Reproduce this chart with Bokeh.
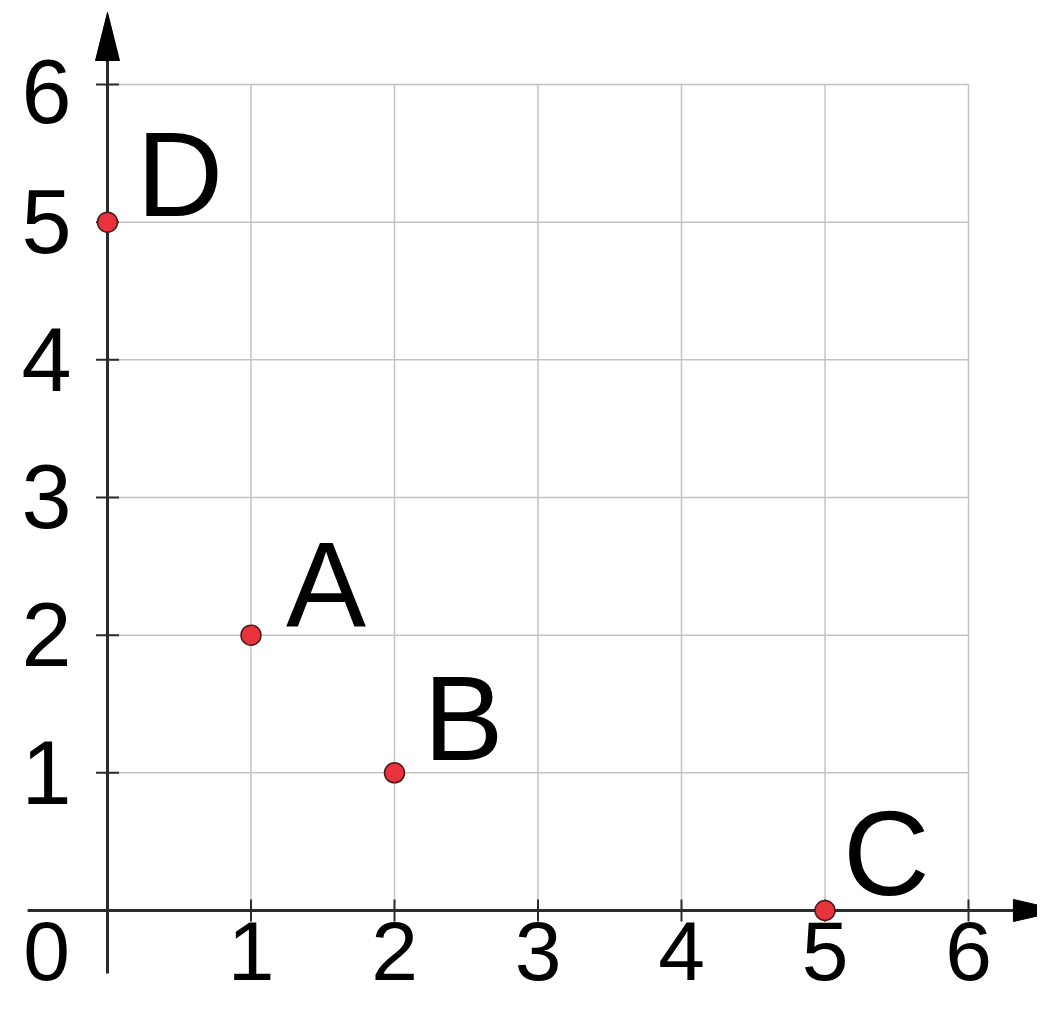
from bokeh.plotting import figure
from bokeh.models import ColumnDataSource, Range1d
from bokeh.core.properties import value
from bokeh.embed import file_html
from bokeh.resources import INLINE

# ---- data ----
point_names = ["A", "B", "C", "D"]
point_x = [1, 2, 5, 0]
point_y = [2, 1, 0, 5]

grid_values = [0, 1, 2, 3, 4, 5, 6]
tick_values = [1, 2, 3, 4, 5, 6]
tick_labels = ["1", "2", "3", "4", "5", "6"]
origin_label = "0"

# ---- styling / layout helpers (screen px) ----
BASE_FIX = 0.375          # em shift of the svg "alphabetic" baseline
LABEL_FS, TICK_FS, XTICK_FS = 120, 90, 84
label_dx = [35, 29, 18, 29]
label_dy = [-6, -10, -13, -3]
ylab_nudge = [0, 0, 0, 0, 0, 8]

# axis extents (data units)
x_axis_start, x_axis_end = -0.557, 6.648
y_axis_start, y_axis_end = -0.458, 6.523
x_head_len, x_head_half = 0.335, 0.080
y_head_len, y_head_half = 0.349, 0.0836

W, H = 1037, 1001
p = figure(width=W, height=H, output_backend="svg", toolbar_location=None,
           x_range=Range1d(-0.7456, 6.4808), y_range=Range1d(-0.661, 6.610),
           min_border=0, min_border_left=0, min_border_right=0,
           min_border_top=0, min_border_bottom=0)
p.axis.visible = False
p.grid.visible = False
p.outline_line_color = None
p.background_fill_color = "white"
p.border_fill_color = "white"

gmin, gmax = grid_values[0], grid_values[-1]
m = len(grid_values) - 1
grid_col = "#c4c4c4"
p.segment(x0=grid_values[1:], y0=[gmin] * m, x1=grid_values[1:], y1=[gmax] * m,
          line_color=grid_col, line_width=1.5)
p.segment(x0=[gmin] * m, y0=grid_values[1:], x1=[gmax] * m, y1=grid_values[1:],
          line_color=grid_col, line_width=1.5)

axis_col = "#2b2b2b"
p.segment(x0=[x_axis_start], y0=[0], x1=[x_axis_end - x_head_len], y1=[0],
          line_color=axis_col, line_width=3)
p.segment(x0=[0], y0=[y_axis_start], x1=[0], y1=[y_axis_end - y_head_len],
          line_color=axis_col, line_width=3)
p.patch(x=[x_axis_end - x_head_len, x_axis_end, x_axis_end - x_head_len],
        y=[-x_head_half, 0, x_head_half], fill_color="black", line_color="black", line_width=1)
p.patch(x=[-y_head_half, 0, y_head_half],
        y=[y_axis_end - y_head_len, y_axis_end, y_axis_end - y_head_len],
        fill_color="black", line_color="black", line_width=1)

n = len(tick_values)
p.rect(x=tick_values, y=[0] * n, width=2, height=22, width_units="screen",
       height_units="screen", fill_color=axis_col, line_color=None)
p.rect(x=[0] * n, y=tick_values, width=23, height=2, width_units="screen",
       height_units="screen", fill_color=axis_col, line_color=None)

font = value("Liberation Sans")
tfix = BASE_FIX * TICK_FS
xfix = BASE_FIX * XTICK_FS
# x tick labels (baseline ~72px below the x axis)
p.text(x=tick_values, y=[0] * n, text=tick_labels, text_font=font,
       text_font_size=f"{XTICK_FS}px", text_align="center", text_baseline="alphabetic",
       y_offset=72 - xfix, text_color="black")
# y tick labels, left of the y axis
ysrc = ColumnDataSource(dict(y=tick_values, t=tick_labels,
                             dy=[33 + d - tfix for d in ylab_nudge]))
p.text(x=0, y="y", text="t", source=ysrc, x_offset=-61, y_offset="dy",
       text_font=font, text_font_size=f"{TICK_FS}px", text_align="center",
       text_baseline="alphabetic", text_color="black")
# origin label
p.text(x=[0], y=[0], text=[origin_label], text_font=font, x_offset=-61,
       y_offset=72 - xfix, text_font_size=f"{XTICK_FS}px", text_align="center",
       text_baseline="alphabetic", text_color="black")

# points and their names
lfix = BASE_FIX * LABEL_FS
src = ColumnDataSource(dict(x=point_x, y=point_y, name=point_names,
                            dx=label_dx, dy=[d - lfix for d in label_dy]))
p.scatter(x="x", y="y", source=src, size=20, fill_color="#e8323c",
          line_color="#4a1c1c", line_width=1.5)
p.text(x="x", y="y", text="name", source=src, x_offset="dx", y_offset="dy",
       text_font=font, text_font_size=f"{LABEL_FS}px", text_align="left",
       text_baseline="alphabetic", text_color="black")

open("out.html", "w").write(file_html(p, INLINE))
